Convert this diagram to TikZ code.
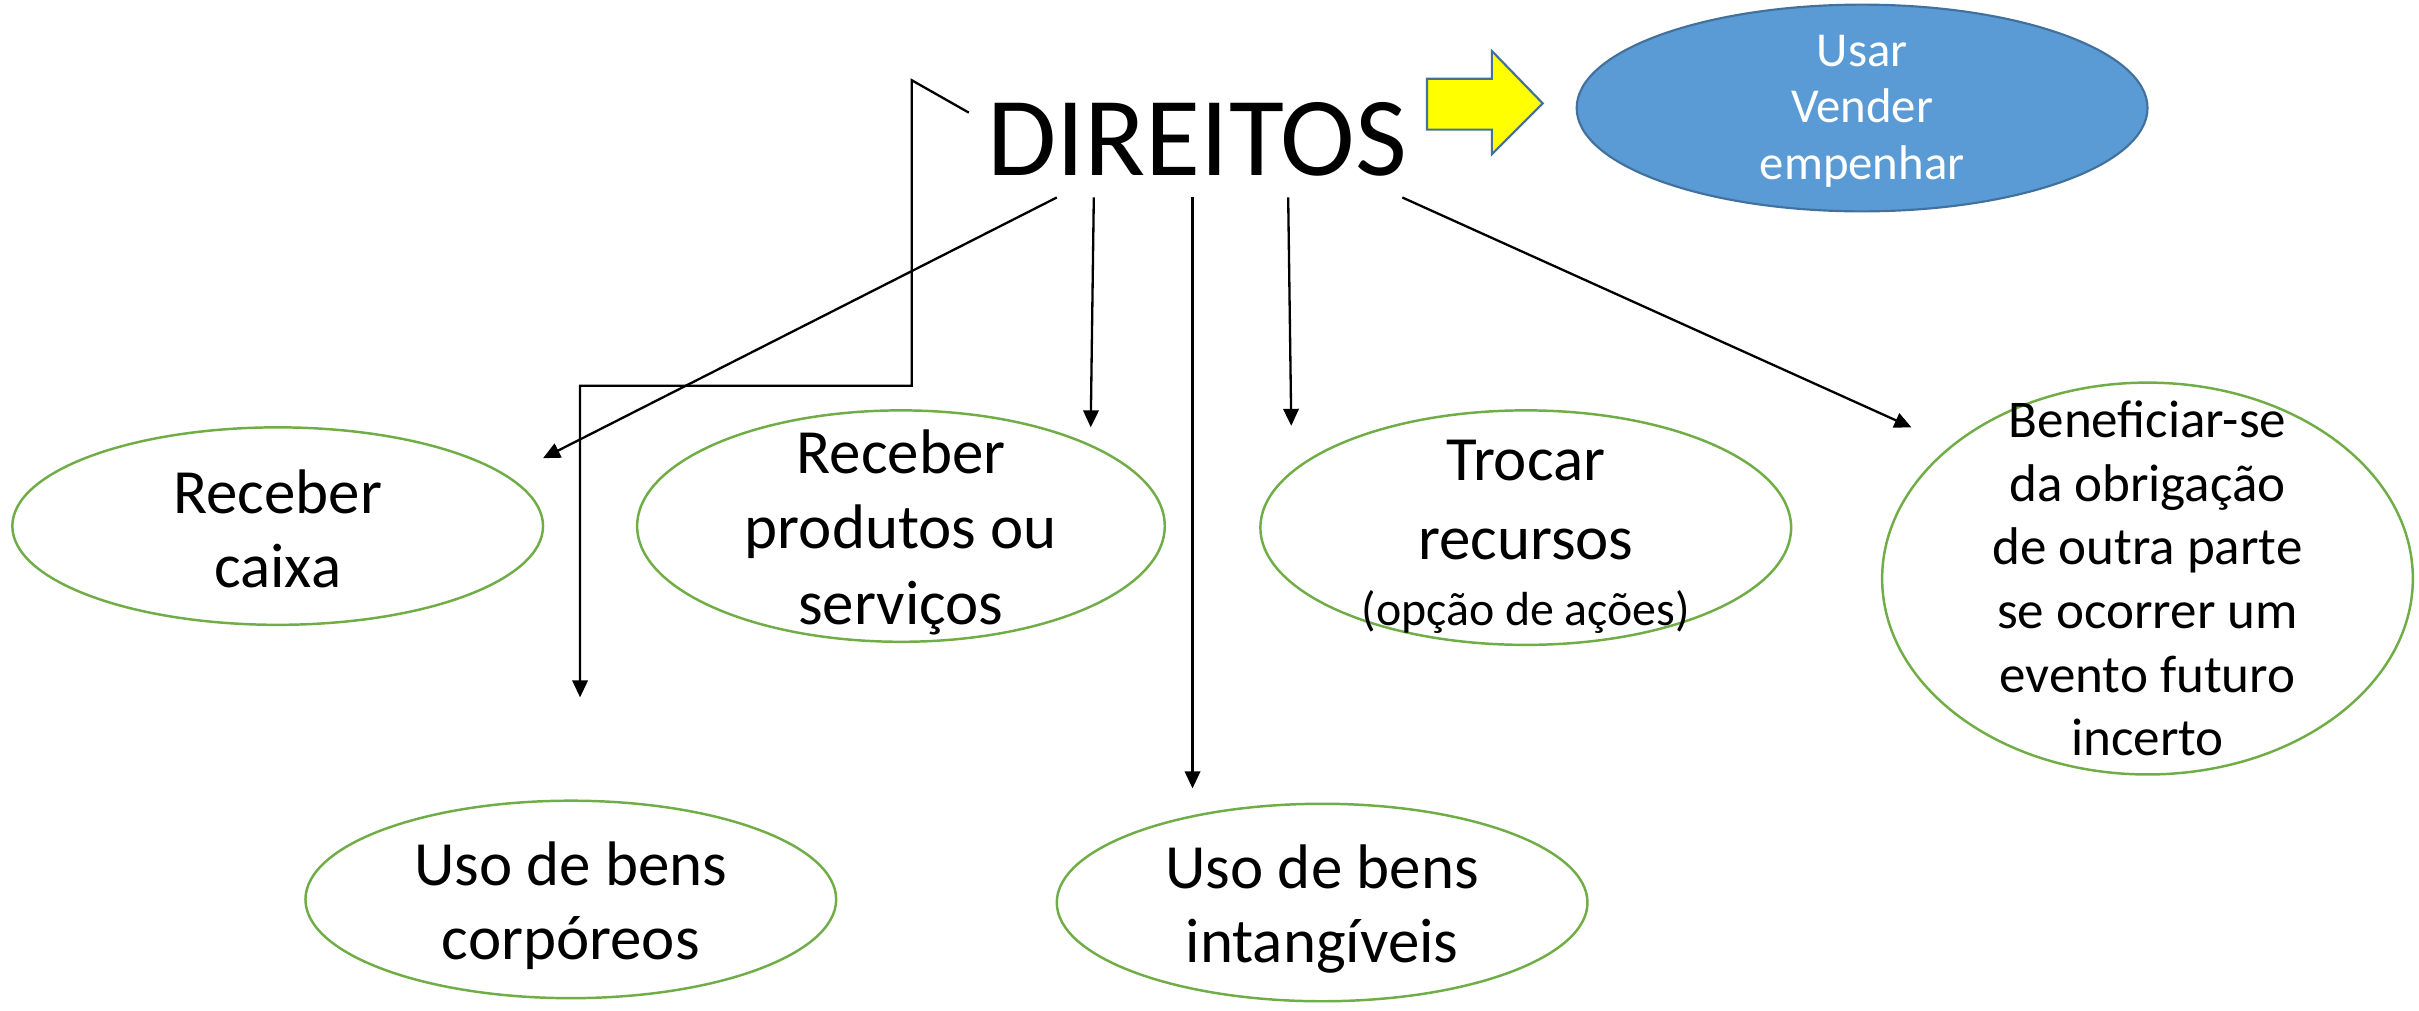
\documentclass[tikz,border=0pt]{standalone}
\usepackage{fontspec}
\setmainfont{Carlito}
\usetikzlibrary{arrows.meta,shapes.geometric}
\definecolor{grn}{HTML}{70AD47}
\definecolor{bfill}{HTML}{5B9BD5}
\definecolor{bdraw}{HTML}{41719C}
\definecolor{yel}{HTML}{FFFF00}
\tikzset{
  oval/.style={ellipse, draw=grn, line width=0.8pt, inner sep=0pt},
  txt/.style={align=center, inner sep=0pt},
  big/.style={font=\fontsize{20.4}{24}\selectfont},
  arr/.style={line width=0.75pt, -{Triangle[length=5.5pt,width=5pt]}},
}
\begin{document}
\begin{tikzpicture}[x=0.5pt,y=-0.5pt]
\useasboundingbox (0,0) rectangle (1568,655);
% title
\node[font=\fontsize{36.5}{40}\selectfont, inner sep=0pt] (dir) at (776,90) {DIREITOS};
% blue ellipse
\node[ellipse, fill=bfill, draw=bdraw, line width=0.7pt, minimum width=185pt, minimum height=67pt, inner sep=0pt] (use) at (1207,70) {};
\node[txt, text=white, font=\fontsize{15.8}{18.3}\selectfont] (uset) at (1207,72) {Usar\\Vender\\empenhar};
% yellow block arrow
\draw[fill=yel, draw=bdraw, line width=0.7pt] (925,51) -- (967,51) -- (967,33) -- (1000,67) -- (967,100) -- (967,84) -- (925,84) -- cycle;
% ellipses
\node[oval, minimum width=172pt, minimum height=64pt] (cx) at (180,341) {};
\node[txt, big] (cxt) at (180,343) {Receber\\caixa};
\node[oval, minimum width=171pt, minimum height=75pt] (prod) at (584,341) {};
\node[txt, font=\fontsize{20.4}{24.5}\selectfont] (prodt) at (584,345) {Receber\\produtos ou\\serviços};
\node[oval, minimum width=172pt, minimum height=76pt] (troc) at (989,342) {};
\node[txt, font=\fontsize{20.4}{25.5}\selectfont] (troct) at (989,348) {Trocar\\recursos\\[-4pt]{\fontsize{15.5}{17}\selectfont (opção de ações)}};
\node[oval, minimum width=172pt, minimum height=127pt] (ben) at (1392,375) {};
\node[txt, font=\fontsize{17.2}{20.6}\selectfont] (bent) at (1392,375) {Beneficiar-se\\da obrigação\\de outra parte\\se ocorrer um\\evento futuro\\incerto};
\node[oval, minimum width=172pt, minimum height=64pt] (corp) at (370,583) {};
\node[txt, big] (corpt) at (370,587) {Uso de bens\\corpóreos};
\node[oval, minimum width=172pt, minimum height=64pt] (intg) at (857,585) {};
\node[txt, big] (intgt) at (857,589) {Uso de bens\\intangíveis};
% connector points
\coordinate (s1) at (685,128); \coordinate (e1) at (352,297);
\coordinate (s2) at (709,128); \coordinate (e2) at (707,277);
\coordinate (s3) at (773,128); \coordinate (e3) at (773,511);
\coordinate (s4) at (835,128); \coordinate (e4) at (837,276);
\coordinate (s5) at (909,128); \coordinate (e5) at (1239,277);
\coordinate (t0) at (628,73); \coordinate (t1) at (591,52);
\coordinate (t2) at (591,250); \coordinate (t3) at (376,250);
\coordinate (e6) at (376,452);
\draw[arr] (s1) -- (e1);
\draw[arr] (s2) -- (e2);
\draw[arr] (s3) -- (e3);
\draw[arr] (s4) -- (e4);
\draw[arr] (s5) -- (e5);
\draw[arr] (t0) -- (t1) -- (t2) -- (t3) -- (e6);
\end{tikzpicture}
\end{document}
